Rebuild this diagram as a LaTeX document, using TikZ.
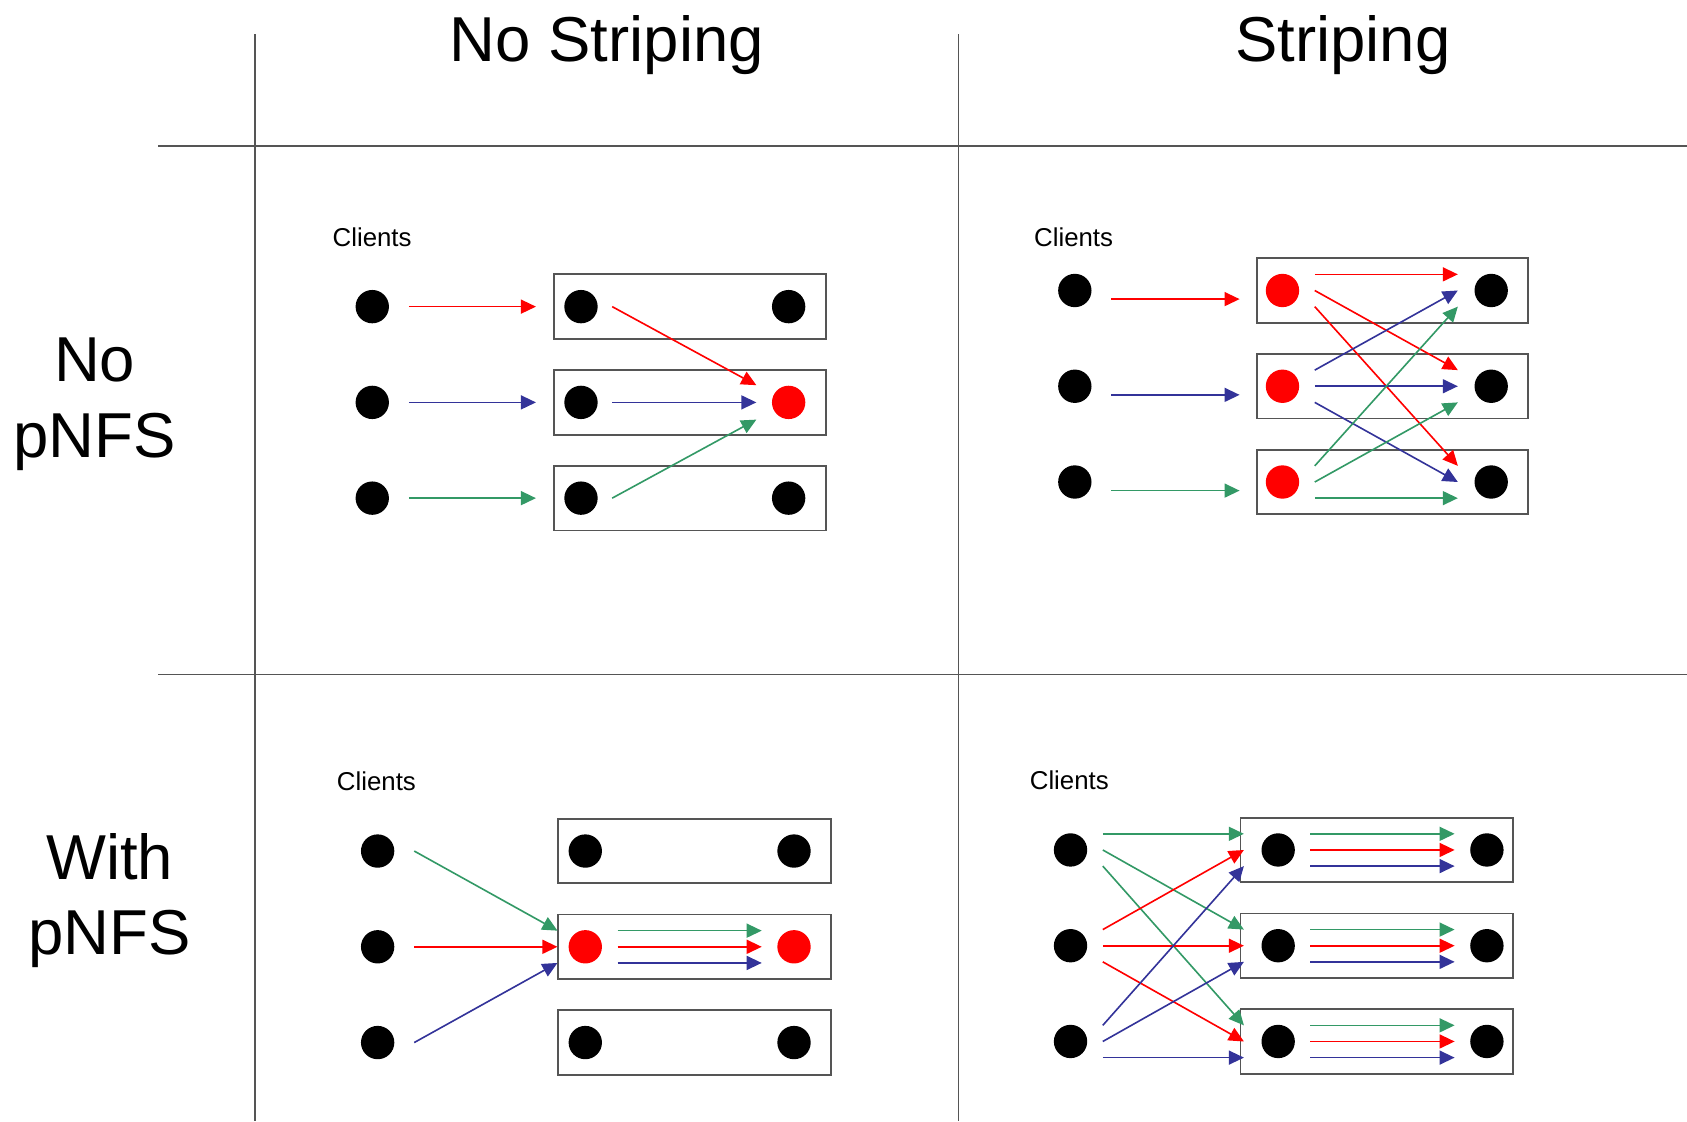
\documentclass[tikz,border=0pt]{standalone}
\usepackage{fontspec}
\setmainfont{Liberation Sans}
\usetikzlibrary{arrows.meta}
\definecolor{cred}{HTML}{FF0000}
\definecolor{cblue}{HTML}{333399}
\definecolor{cgreen}{HTML}{339966}
\definecolor{cgrid}{HTML}{555555}
\tikzset{
  dot/.style={circle,fill=black,minimum size=31pt,inner sep=0pt},
  rdot/.style={dot,fill=cred},
  srv/.style={draw=cgrid,line width=1.7pt,minimum width=253pt,minimum height=60pt,inner sep=0pt},
  arr/.style={line width=1.5pt,-{Triangle[length=14pt,width=13pt]}},
  ra/.style={arr,cred},
  ba/.style={arr,cblue},
  ga/.style={arr,cgreen},
  gridline/.style={cgrid,line width=1.6pt},
  title/.style={font=\fontsize{59}{70}\selectfont,inner sep=0pt},
  rowlab/.style={font=\fontsize{59}{70}\selectfont,align=center,inner sep=0pt},
  clients/.style={font=\fontsize{24}{28}\selectfont,anchor=base west,inner sep=0pt}
}
\begin{document}
\begin{tikzpicture}[x=1pt,y=-1pt]
\useasboundingbox (0,0) rectangle (1568,1042);
% grid
\coordinate (v1t) at (237,32); \coordinate (v1b) at (237,1042);
\coordinate (v2t) at (891,32); \coordinate (v2b) at (891,1042);
\coordinate (h1l) at (147,136); \coordinate (h1r) at (1568,136);
\coordinate (h2l) at (147,627); \coordinate (h2r) at (1568,627);
\draw[gridline] (v1t) -- (v1b);
\draw[gridline] (v2t) -- (v2b);
\draw[gridline] (h1l) -- (h1r);
\draw[gridline] (h2l) -- (h2r);
% titles
\node[title,anchor=base] (t1) at (564,57) {No Striping};
\node[title,anchor=base] (t2) at (1248,57) {Striping};
\node[rowlab,anchor=base] (r1a) at (88,355) {No};
\node[rowlab,anchor=base] (r1b) at (88,425) {pNFS};
\node[rowlab,anchor=base] (r2a) at (102,817) {With};
\node[rowlab,anchor=base] (r2b) at (102,887) {pNFS};

% ===== top-left =====
\node[clients] (tl-cl) at (309,229) {Clients};
\node[srv] (tl-b1) at (641.5,285) {};
\node[srv] (tl-b2) at (641.5,374) {};
\node[srv] (tl-b3) at (641.5,463) {};
\node[dot] (tl-c1) at (346,285) {};
\node[dot] (tl-c2) at (346,374) {};
\node[dot] (tl-c3) at (346,463) {};
\node[dot] (tl-s1a) at (540,285) {};
\node[dot] (tl-s1b) at (733,285) {};
\node[dot] (tl-s2a) at (540,374) {};
\node[rdot] (tl-s2b) at (733,374) {};
\node[dot] (tl-s3a) at (540,463) {};
\node[dot] (tl-s3b) at (733,463) {};
\draw[ra] ([xshift=34pt]tl-c1.center) -- ([xshift=-16pt]tl-b1.west);
\draw[ba] ([xshift=34pt]tl-c2.center) -- ([xshift=-16pt]tl-b2.west);
\draw[ga] ([xshift=34pt]tl-c3.center) -- ([xshift=-16pt]tl-b3.west);
\draw[ra] ([xshift=29pt]tl-s1a.center) -- ([xshift=-30pt,yshift=16pt]tl-s2b.center);
\draw[ba] ([xshift=29pt]tl-s2a.center) -- ([xshift=-30pt]tl-s2b.center);
\draw[ga] ([xshift=29pt]tl-s3a.center) -- ([xshift=-30pt,yshift=-16pt]tl-s2b.center);

% ===== top-right =====
\node[clients] (tr-cl) at (961,229) {Clients};
\node[srv,minimum width=252pt] (tr-b1) at (1294,270) {};
\node[srv,minimum width=252pt] (tr-b2) at (1294,359) {};
\node[srv,minimum width=252pt] (tr-b3) at (1294,448) {};
\node[dot] (tr-c1) at (999,270) {};
\node[dot] (tr-c2) at (999,359) {};
\node[dot] (tr-c3) at (999,448) {};
\node[rdot] (tr-s1a) at (1192,270) {};
\node[dot] (tr-s1b) at (1386,270) {};
\node[rdot] (tr-s2a) at (1192,359) {};
\node[dot] (tr-s2b) at (1386,359) {};
\node[rdot] (tr-s3a) at (1192,448) {};
\node[dot] (tr-s3b) at (1386,448) {};
\draw[ra] ([xshift=34pt,yshift=-8pt]tr-c1.center) -- ([xshift=-15pt,yshift=-8pt]tr-b1.west);
\draw[ba] ([xshift=34pt,yshift=-8pt]tr-c2.center) -- ([xshift=-15pt,yshift=-8pt]tr-b2.west);
\draw[ga] ([xshift=34pt,yshift=-8pt]tr-c3.center) -- ([xshift=-15pt,yshift=-8pt]tr-b3.west);
% red from s1a
\draw[ra] ([xshift=30pt,yshift=15pt]tr-s1a.center) -- ([xshift=-31pt,yshift=15pt]tr-s1b.center);
\draw[ra] ([xshift=30pt]tr-s1a.center) -- ([xshift=-31pt,yshift=15pt]tr-s2b.center);
\draw[ra] ([xshift=30pt,yshift=-15pt]tr-s1a.center) -- ([xshift=-31pt,yshift=15pt]tr-s3b.center);
% blue from s2a
\draw[ba] ([xshift=30pt,yshift=15pt]tr-s2a.center) -- ([xshift=-31pt]tr-s1b.center);
\draw[ba] ([xshift=30pt]tr-s2a.center) -- ([xshift=-31pt]tr-s2b.center);
\draw[ba] ([xshift=30pt,yshift=-15pt]tr-s2a.center) -- ([xshift=-31pt]tr-s3b.center);
% green from s3a
\draw[ga] ([xshift=30pt,yshift=15pt]tr-s3a.center) -- ([xshift=-31pt,yshift=-15pt]tr-s1b.center);
\draw[ga] ([xshift=30pt]tr-s3a.center) -- ([xshift=-31pt,yshift=-15pt]tr-s2b.center);
\draw[ga] ([xshift=30pt,yshift=-15pt]tr-s3a.center) -- ([xshift=-31pt,yshift=-15pt]tr-s3b.center);

% ===== bottom-left =====
\node[clients] (bl-cl) at (313,735) {Clients};
\node[srv] (bl-b1) at (645.5,791) {};
\node[srv] (bl-b2) at (645.5,880) {};
\node[srv] (bl-b3) at (645.5,969) {};
\node[dot] (bl-c1) at (351,791) {};
\node[dot] (bl-c2) at (351,880) {};
\node[dot] (bl-c3) at (351,969) {};
\node[dot] (bl-s1a) at (544,791) {};
\node[dot] (bl-s1b) at (738,791) {};
\node[rdot] (bl-s2a) at (544,880) {};
\node[rdot] (bl-s2b) at (738,880) {};
\node[dot] (bl-s3a) at (544,969) {};
\node[dot] (bl-s3b) at (738,969) {};
\draw[ga] ([xshift=34pt]bl-c1.center) -- ([yshift=15pt]bl-b2.west);
\draw[ra] ([xshift=34pt]bl-c2.center) -- (bl-b2.west);
\draw[ba] ([xshift=34pt]bl-c3.center) -- ([yshift=-15pt]bl-b2.west);
\draw[ga] ([xshift=30pt,yshift=15pt]bl-s2a.center) -- ([xshift=-30pt,yshift=15pt]bl-s2b.center);
\draw[ra] ([xshift=30pt]bl-s2a.center) -- ([xshift=-30pt]bl-s2b.center);
\draw[ba] ([xshift=30pt,yshift=-15pt]bl-s2a.center) -- ([xshift=-30pt,yshift=-15pt]bl-s2b.center);

% ===== bottom-right =====
\node[clients] (br-cl) at (957,734) {Clients};
\node[srv] (br-b1) at (1279.5,790) {};
\node[srv] (br-b2) at (1279.5,879) {};
\node[srv] (br-b3) at (1279.5,968) {};
\node[dot] (br-c1) at (995,790) {};
\node[dot] (br-c2) at (995,879) {};
\node[dot] (br-c3) at (995,968) {};
\node[dot] (br-s1a) at (1188,790) {};
\node[dot] (br-s1b) at (1382,790) {};
\node[dot] (br-s2a) at (1188,879) {};
\node[dot] (br-s2b) at (1382,879) {};
\node[dot] (br-s3a) at (1188,968) {};
\node[dot] (br-s3b) at (1382,968) {};
% green from c1
\draw[ga] ([xshift=30pt,yshift=15pt]br-c1.center) -- ([xshift=4pt,yshift=15pt]br-b1.west);
\draw[ga] ([xshift=30pt]br-c1.center) -- ([xshift=4pt,yshift=15pt]br-b2.west);
\draw[ga] ([xshift=30pt,yshift=-15pt]br-c1.center) -- ([xshift=4pt,yshift=15pt]br-b3.west);
% red from c2
\draw[ra] ([xshift=30pt,yshift=15pt]br-c2.center) -- ([xshift=4pt]br-b1.west);
\draw[ra] ([xshift=30pt]br-c2.center) -- ([xshift=4pt]br-b2.west);
\draw[ra] ([xshift=30pt,yshift=-15pt]br-c2.center) -- ([xshift=4pt]br-b3.west);
% blue from c3
\draw[ba] ([xshift=30pt,yshift=15pt]br-c3.center) -- ([xshift=4pt,yshift=-15pt]br-b1.west);
\draw[ba] ([xshift=30pt]br-c3.center) -- ([xshift=4pt,yshift=-15pt]br-b2.west);
\draw[ba] ([xshift=30pt,yshift=-15pt]br-c3.center) -- ([xshift=4pt,yshift=-15pt]br-b3.west);
% inner arrows
\foreach \i in {1,2,3}{
  \draw[ga] ([xshift=30pt,yshift=15pt]br-s\i a.center) -- ([xshift=-30pt,yshift=15pt]br-s\i b.center);
  \draw[ra] ([xshift=30pt]br-s\i a.center) -- ([xshift=-30pt]br-s\i b.center);
  \draw[ba] ([xshift=30pt,yshift=-15pt]br-s\i a.center) -- ([xshift=-30pt,yshift=-15pt]br-s\i b.center);
}
\end{tikzpicture}
\end{document}
